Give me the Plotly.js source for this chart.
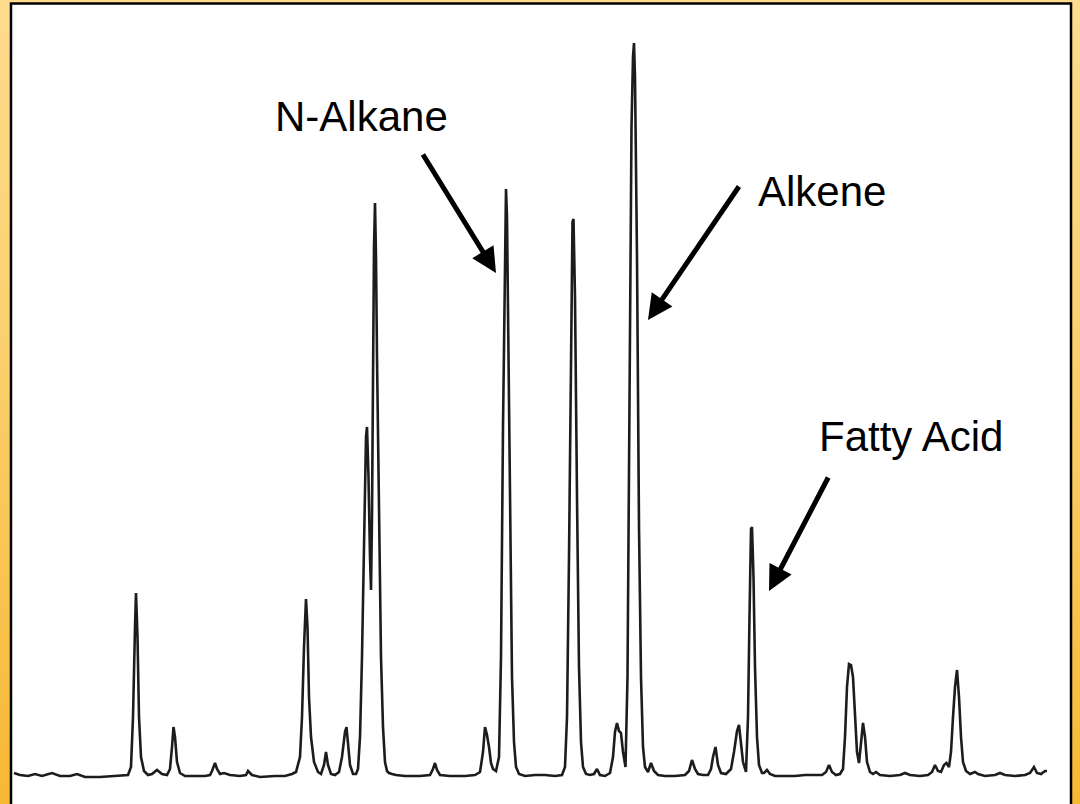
<!DOCTYPE html>
<html>
<head>
<meta charset="utf-8">
<script src="https://cdn.plot.ly/plotly-3.0.1.min.js"></script>
<style>
  html, body { margin: 0; padding: 0; }
  body {
    width: 1080px; height: 804px; overflow: hidden;
    background: linear-gradient(to bottom, #fddc8e 0%, #fbcf6c 45%, #f7b834 100%);
  }
  #chart { width: 1080px; height: 804px; }
</style>
</head>
<body>
<div id="chart"></div>
<script>
// Chromatogram trace: retention position and detector response (baseline = 0)
const retention = [
  14, 20, 28, 35, 42, 52, 60, 70, 77, 85, 100, 118, 128,
  131, 133, 135, 136, 137.5, 139, 141, 144, 148, 152, 157, 162, 167,
  170, 172, 173.5, 175, 177, 180, 185, 195, 205, 210, 212, 215, 217, 220,
  224, 230, 240, 246, 248, 252, 260, 275, 285, 292, 296,
  300, 302, 304, 306, 307.5, 309, 311, 314, 318, 321, 324, 326, 328, 331,
  335, 339, 342, 345, 346.5, 348, 350, 353, 356, 358,
  360, 362, 364, 366, 367, 368.5, 370, 371, 372, 373, 374, 375, 376, 377,
  379, 381, 383, 385, 387, 389, 392, 396, 405, 420, 430, 433, 435, 437, 440,
  450, 465, 475, 480, 483, 485, 487, 489, 491, 493, 496,
  499, 501, 503, 505, 506, 507, 508.5, 510, 512, 514, 516, 519, 525, 535,
  545, 555, 562, 565, 567, 569, 571, 572.5, 573.5, 575, 577, 579, 581, 583,
  586, 590, 594, 597, 600, 605, 610, 613, 615, 617, 619, 621, 623, 625.5,
  627.5, 629.5, 631.5, 633, 634, 635, 637, 639, 641, 643, 645, 648, 651, 654,
  658, 665, 675, 685, 689, 692, 695, 698, 703, 708, 711, 713, 715.5, 718, 721,
  726, 731, 734, 737, 739, 741, 743, 746, 748, 749.5, 751, 752, 753.5, 755,
  757, 759, 762, 764, 767, 770, 775, 785, 795, 805, 815, 822, 826, 829, 832,
  836, 840, 843, 845, 847, 849, 851, 853, 855, 857, 859, 861, 863, 865, 867,
  870, 873, 876, 880, 890, 900, 905, 910, 920, 928, 932, 935, 938, 941, 944,
  946.5, 949, 951, 953, 955, 957, 959, 961, 963, 966, 970, 975, 978, 985, 995,
  1000, 1005, 1015, 1025, 1030, 1034, 1037, 1041, 1045, 1047
];
const response = [
  4, 2, 1, 3, 1, 4, 1, 1, 3, 0, 0, 1, 2,
  10, 60, 150, 184, 140, 60, 20, 6, 2, 3, 7, 3, 2,
  8, 30, 50, 40, 15, 4, 1, 1, 1, 2, 6, 14, 8, 3,
  4, 2, 1, 2, 6, 2, 0, 1, 1, 3, 5,
  20, 60, 130, 178, 150, 80, 40, 15, 5, 3, 12, 25, 12, 3,
  2, 5, 20, 45, 50, 35, 12, 3, 3, 8,
  40, 120, 250, 340, 350, 300, 220, 187, 260, 420, 530, 574, 520, 420,
  250, 120, 50, 15, 6, 4, 3, 2, 1, 1, 2, 8, 14, 7, 2,
  1, 1, 2, 5, 25, 50, 42, 30, 14, 8, 6,
  20, 120, 350, 540, 588, 560, 420, 250, 100, 35, 10, 3, 1, 2,
  2, 1, 2, 10, 60, 220, 450, 555, 558, 480, 280, 110, 35, 10,
  3, 2, 3, 8, 2, 1, 4, 20, 45, 54, 46, 44, 25, 10,
  100, 400, 650, 720, 734, 700, 520, 250, 100, 30, 10, 5, 14, 6,
  2, 1, 1, 2, 6, 17, 8, 3, 2, 2, 8, 20, 30, 12, 4,
  3, 8, 25, 46, 52, 35, 15, 5, 60, 160, 248, 250, 200, 110,
  40, 12, 4, 4, 7, 3, 1, 1, 1, 2, 2, 2, 5, 12, 5,
  2, 3, 8, 40, 90, 113, 112, 100, 60, 25, 14, 35, 54, 40, 15,
  5, 3, 5, 2, 1, 2, 4, 2, 1, 2, 5, 12, 6, 5, 12,
  14, 10, 25, 60, 90, 107, 80, 40, 15, 6, 3, 5, 3, 1, 2,
  4, 2, 1, 2, 4, 10, 4, 3, 6, 6
];

// Labelled compounds: label text, label centre, arrow tail and arrow tip
const compoundNames = ["N-Alkane", "Alkene", "Fatty Acid"];
const labelX = [361, 822, 911];
const labelY = [661, 586, 341];
const arrowTailX = [422, 740, 829];
const arrowTailY = [624, 592, 301];
const arrowTipX = [496, 648, 769];
const arrowTipY = [504, 457, 186];

const trace = {
  x: retention,
  y: response,
  type: "scatter",
  mode: "lines",
  line: { color: "#1c1c1c", width: 2.6 },
  hoverinfo: "skip"
};

const annotations = [];
compoundNames.forEach((name, i) => {
  annotations.push({
    x: labelX[i], y: labelY[i], xref: "x", yref: "y",
    text: name, showarrow: false,
    font: { family: "Liberation Sans, Arial, sans-serif", size: 42, color: "#000" },
    xanchor: "center", yanchor: "middle"
  });
  annotations.push({
    x: arrowTipX[i], y: arrowTipY[i], xref: "x", yref: "y",
    ax: arrowTailX[i], ay: arrowTailY[i], axref: "x", ayref: "y",
    text: "", showarrow: true,
    arrowhead: 2, arrowsize: 1, arrowwidth: 5, arrowcolor: "#000",
    standoff: 0, startstandoff: 0
  });
});

const layout = {
  width: 1080,
  height: 804,
  margin: { l: 0, r: 0, t: 0, b: 0, pad: 0 },
  paper_bgcolor: "rgba(0,0,0,0)",
  plot_bgcolor: "rgba(0,0,0,0)",
  showlegend: false,
  xaxis: {
    range: [0, 1080], showgrid: false, zeroline: false,
    showticklabels: false, ticks: "", showline: false, fixedrange: true
  },
  yaxis: {
    range: [-27, 777], showgrid: false, zeroline: false,
    showticklabels: false, ticks: "", showline: false, fixedrange: true
  },
  shapes: [{
    type: "rect", xref: "paper", yref: "paper", layer: "below",
    x0: 11 / 1080, x1: 1071 / 1080, y0: -0.02, y1: 1 - 3.5 / 804,
    fillcolor: "#ffffff",
    line: { color: "#000000", width: 2.5 }
  }],
  annotations: annotations
};

Plotly.newPlot("chart", [trace], layout, { displayModeBar: false, staticPlot: true });
</script>
</body>
</html>
